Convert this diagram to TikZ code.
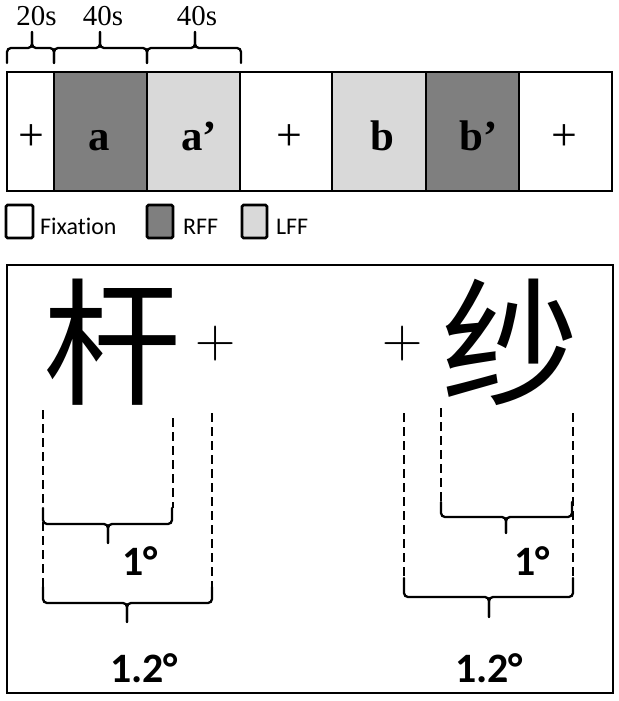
\documentclass[tikz,border=0pt]{standalone}
\usepackage{fontspec}
\setmainfont{Liberation Serif}
\newfontfamily\carlito[Ligatures={NoCommon,NoContextual}]{Carlito}
\newfontfamily\cjk{Noto Sans CJK SC}
\definecolor{rffgray}{HTML}{7F7F7F}
\definecolor{lffgray}{HTML}{D9D9D9}
\newcommand\mybrace[6]{%
  \draw[bracestyle] (#1,#4) -- (#1,#5) -- (#3,#5) -- (#3,#6);
  \draw[bracestyle] (#2,#4) -- (#2,#5) -- (#3,#5) -- (#3,#6);}
\begin{document}
\begin{tikzpicture}[x=1bp,y=-1bp,
  bracestyle/.style={line width=2.3bp,rounded corners=4bp,line cap=round},
  cellline/.style={line width=2.3bp},
  celltxt/.style={inner sep=0,anchor=base,font=\fontsize{43}{45}\selectfont\bfseries},
  plustxt/.style={inner sep=0,anchor=base,font=\fontsize{46}{48}\selectfont},
  durtxt/.style={inner sep=0,anchor=base,font=\fontsize{29}{31}\selectfont},
  legbox/.style={line width=2.8bp,rounded corners=1.5bp},
  legtxt/.style={inner sep=0,anchor=base west,font=\carlito\fontsize{24}{26}\selectfont},
  dashln/.style={line width=2.3bp,dash pattern=on 9bp off 5bp},
  degtxt/.style={inner sep=0,anchor=base,font=\carlito\fontsize{42}{44}\selectfont\bfseries},
  hanzi/.style={inner sep=0,anchor=base,font=\cjk\fontsize{138}{140}\selectfont},
  bigplus/.style={inner sep=0,anchor=center,font=\fontspec{Latin Modern Roman}\fontsize{56}{60}\selectfont}]
\useasboundingbox (0,0) rectangle (619,701);
% ---- block design bar ----
\fill[rffgray] (54,72) rectangle (147,191);
\fill[lffgray] (147,72) rectangle (240,191);
\fill[lffgray] (332,72) rectangle (426,191);
\fill[rffgray] (426,72) rectangle (519,191);
\draw[cellline] (7,72) rectangle (612,191);
\foreach \xx in {54,147,240,332,426,519} \draw[cellline] (\xx,72) -- (\xx,191);
\node[plustxt] (p1) at (31,150) {+};
\node[celltxt] (ca) at (99,150) {a};
\node[celltxt] (caa) at (199,150) {a’};
\node[plustxt] (p2) at (289,150) {+};
\node[celltxt] (cb) at (382,150) {b};
\node[celltxt] (cbb) at (479,150) {b’};
\node[plustxt] (p3) at (564,150) {+};
% ---- durations ----
\mybrace{7}{54}{32}{63}{48}{32}
\mybrace{54}{147}{100}{63}{48}{32}
\mybrace{147}{241}{195}{63}{48}{32}
\node[durtxt] (d1) at (36.5,26) {20s};
\node[durtxt] (d2) at (103,26) {40s};
\node[durtxt] (d3) at (197,26) {40s};
% ---- legend ----
\draw[legbox,fill=white] (6,205) rectangle (33,238);
\draw[legbox,fill=rffgray] (147,205) rectangle (173,238);
\draw[legbox,fill=lffgray] (242,205) rectangle (267,238);
\node[legtxt] (lf) at (40,234) {Fixation};
\node[legtxt] (lr) at (183,234) {RFF};
\node[legtxt] (ll) at (276,234) {LFF};
% ---- stimulus panel ----
\draw[line width=2.3bp] (7,265) rectangle (613,693);
\node[hanzi] (h1) at (112,394) {杆};
\node[hanzi] (h2) at (510,394) {纱};
\node[bigplus] (fp1) at (216,344) {+};
\node[bigplus] (fp2) at (403,344) {+};
% dashed guides
\draw[dashln] (43,410) -- (43,593);
\draw[dashln] (173,418) -- (173,508);
\draw[dashln] (212,413) -- (212,590);
\draw[dashln] (404,413) -- (404,583);
\draw[dashln] (441,408) -- (441,507);
\draw[dashln] (573,413) -- (573,583);
% braces
\mybrace{43}{172}{108}{508}{524}{543}
\mybrace{43}{212}{127}{587}{603}{622}
\mybrace{441}{572}{506}{502}{517}{533}
\mybrace{404}{573}{489}{578}{597}{617}
\node[degtxt] (g1) at (140,575) {1°};
\node[degtxt] (g2) at (144,682) {1.2°};
\node[degtxt] (g3) at (532,575) {1°};
\node[degtxt] (g4) at (489,682) {1.2°};
\end{tikzpicture}
\end{document}
